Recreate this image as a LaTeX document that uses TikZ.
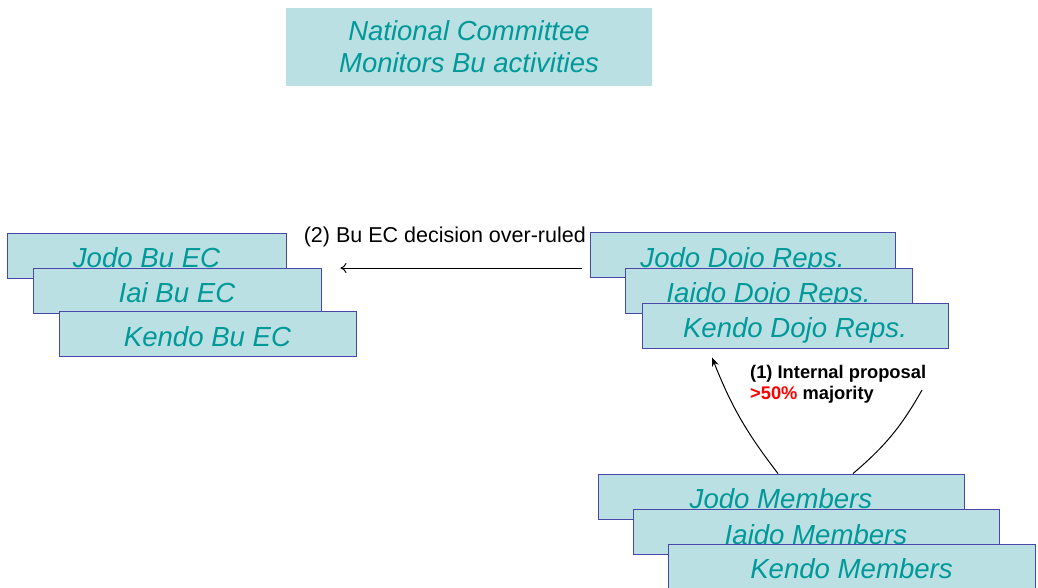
\documentclass[tikz,border=0pt]{standalone}
\usepackage{fontspec}
\setsansfont{Liberation Sans}
\usetikzlibrary{positioning, arrows.meta, calc}
\definecolor{boxfill}{RGB}{187,224,227}
\definecolor{tealtext}{RGB}{0,153,153}
\definecolor{boxline}{RGB}{72,72,168}

\begin{document}
\begin{tikzpicture}[
        x=1pt, y=-1pt,
        font=\sffamily,
        natbox/.style={fill=boxfill, text=tealtext, font=\sffamily\itshape\fontsize{27.5}{32}\selectfont, align=center, minimum width=366pt, minimum height=78pt, inner sep=0pt, text height=52pt, text depth=0pt},
        stackbox/.style={draw=boxline, line width=0.9pt, fill=boxfill, text=tealtext, font=\sffamily\itshape\fontsize{27.6}{32}\selectfont, minimum width=#1, minimum height=45pt, inner sep=0pt, text height=24pt, text depth=0pt},
        steplabel/.style={font=\sffamily\fontsize{21.5}{25}\selectfont, inner sep=0pt},
        votelabel/.style={font=\sffamily\bfseries\fontsize{18.3}{21}\selectfont, align=left, inner sep=0pt},
        flowarrow/.style={line width=1pt}
    ]
    \useasboundingbox (0,0) rectangle (1038,588);

    % --- National Committee (Top) ---
    \node[natbox] (natcom) at (469, 47) {National Committee\\Monitors Bu activities};

    % --- Bu EC stack (Left) ---
    \node[stackbox=279pt] (jodo_ec) at (146.5, 255.5) {Jodo Bu EC};
    \node[stackbox=288pt] (iai_ec) at (177, 290.5) {Iai Bu EC};
    \node[stackbox=297pt] (kendo_ec) at (207.5, 334) {Kendo Bu EC};

    % --- Dojo Reps. stack (Right) ---
    \node[stackbox=305pt] (jodo_dojo) at (742.5, 255) {Jodo Dojo Reps.};
    \node[stackbox=287pt] (iaido_dojo) at (768.5, 290.5) {Iaido Dojo Reps.};
    \node[stackbox=306pt] (kendo_dojo) at (795, 325.5) {Kendo Dojo Reps.};

    % --- Members stack (Bottom Right) ---
    \node[stackbox=366pt] (jodo_mem) at (781, 496.5) {Jodo Members};
    \node[stackbox=366pt] (iaido_mem) at (816, 532) {Iaido Members};
    \node[stackbox=367pt] (kendo_mem) at (851.5, 566.5) {Kendo Members};

    % Arrow (2): Dojo Reps. over-rule the Bu EC
    \draw[flowarrow, -{To[length=6pt, width=10pt]}] ([shift={(-8pt,-13pt)}]jodo_dojo.west) -- ([shift={(19pt,22.5pt)}]iai_ec.east);
    \node[steplabel, anchor=east] (overrule) at (586, 237) {(2) Bu EC decision over-ruled};

    % Arrows (1): proposal from the members
    \coordinate (vote_end) at (922, 390);
    \draw[flowarrow, -{Stealth[length=9pt, width=7pt]}] ([xshift=-3pt]jodo_mem.north) to[bend left=8] ([shift={(-83pt,-9pt)}]kendo_dojo.south);
    \draw[flowarrow] ([xshift=72pt]jodo_mem.north) to[bend right=10] (vote_end);
    \node[votelabel, anchor=north west] (proposal) at (750, 365) {(1) Internal proposal\\\textcolor{red}{>50\%} majority};

\end{tikzpicture}
\end{document}
